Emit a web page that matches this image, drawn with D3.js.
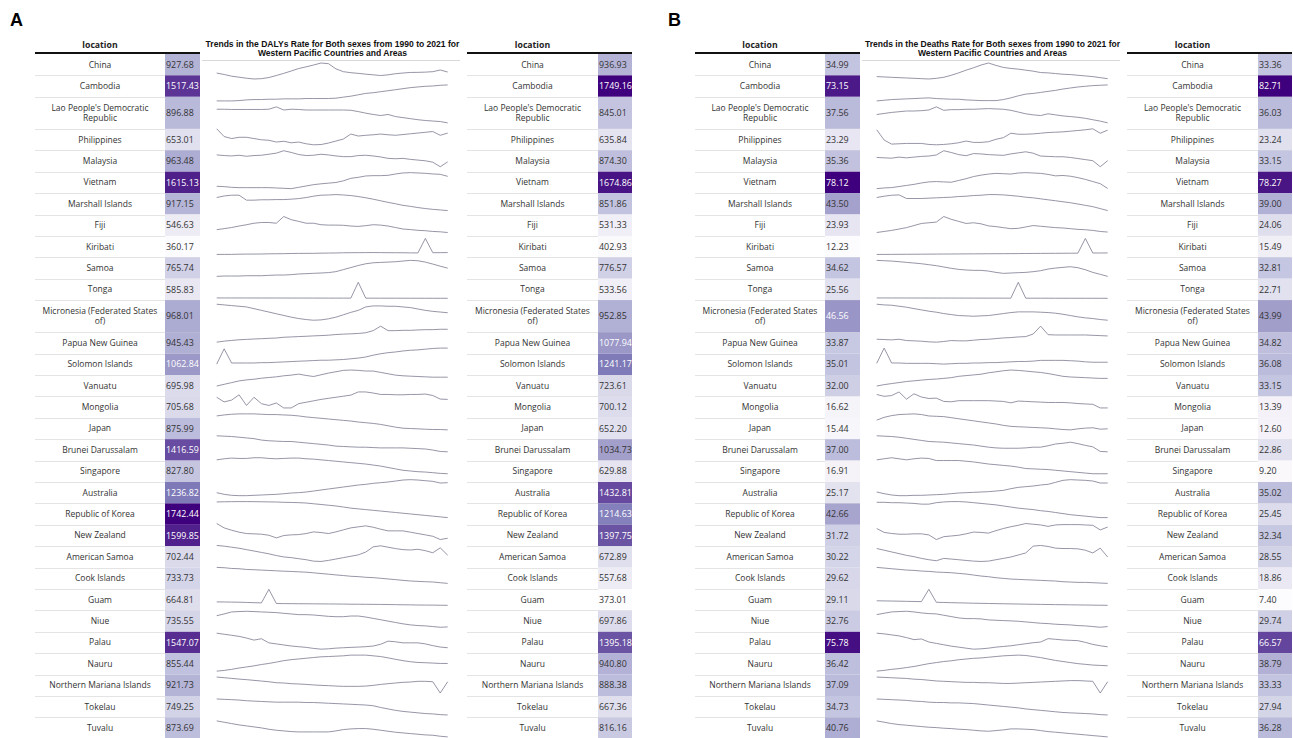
<!DOCTYPE html>
<html>
<head>
<meta charset="utf-8">
<script src="https://cdn.jsdelivr.net/npm/d3@7"></script>
<style>
  html, body { margin: 0; padding: 0; background: #fff; }
  svg { display: block; }
</style>
</head>
<body>
<svg id="chart" width="1293" height="738"></svg>
<script>
// ---- data -------------------------------------------------------------
const locations = ["China", "Cambodia", "Lao People's Democratic Republic", "Philippines", "Malaysia",
  "Vietnam", "Marshall Islands", "Fiji", "Kiribati", "Samoa", "Tonga", "Micronesia (Federated States of)",
  "Papua New Guinea", "Solomon Islands", "Vanuatu", "Mongolia", "Japan", "Brunei Darussalam", "Singapore",
  "Australia", "Republic of Korea", "New Zealand", "American Samoa", "Cook Islands", "Guam", "Niue",
  "Palau", "Nauru", "Northern Mariana Islands", "Tokelau", "Tuvalu"];

const years = [1990, 1991, 1992, 1993, 1994, 1995, 1996, 1997, 1998, 1999, 2000, 2001, 2002, 2003, 2004, 2005,
  2006, 2007, 2008, 2009, 2010, 2011, 2012, 2013, 2014, 2015, 2016, 2017, 2018, 2019, 2020, 2021];

const dalys1990 = [927.68, 1517.43, 896.88, 653.01, 963.48, 1615.13, 917.15, 546.63, 360.17, 765.74, 585.83,
  968.01, 945.43, 1062.84, 695.98, 705.68, 875.99, 1416.59, 827.80, 1236.82, 1742.44, 1599.85, 702.44,
  733.73, 664.81, 735.55, 1547.07, 855.44, 921.73, 749.25, 873.69];
const dalys2021 = [936.93, 1749.16, 845.01, 635.84, 874.30, 1674.86, 851.86, 531.33, 402.93, 776.57, 533.56,
  952.85, 1077.94, 1241.17, 723.61, 700.12, 652.20, 1034.73, 629.88, 1432.81, 1214.63, 1397.75, 672.89,
  557.68, 373.01, 697.86, 1395.18, 940.80, 888.38, 667.36, 816.16];
const deaths1990 = [34.99, 73.15, 37.56, 23.29, 35.36, 78.12, 43.50, 23.93, 12.23, 34.62, 25.56, 46.56, 33.87,
  35.01, 32.00, 16.62, 15.44, 37.00, 16.91, 25.17, 42.66, 31.72, 30.22, 29.62, 29.11, 32.76, 75.78, 36.42,
  37.09, 34.73, 40.76];
const deaths2021 = [33.36, 82.71, 36.03, 23.24, 33.15, 78.27, 39.00, 24.06, 15.49, 32.81, 22.71, 43.99, 34.82,
  36.08, 33.15, 13.39, 12.60, 22.86, 9.20, 35.02, 25.45, 32.34, 28.55, 18.86, 7.40, 29.74, 66.57, 38.79,
  33.33, 27.94, 36.28];

// yearly DALYs rate per 100,000, 1990-2021, one row per location (same order as above)
const dalysTrend = [
  [927.68,915,900,891,882,875,878,888,906,925,946,968,983,999,1017,1011,965,940,931,925,918,912,906,912,922,928,933,934,936,940,955,936.93],
  [1517.43,1517,1517,1522,1532,1537,1537,1542,1542,1547,1547,1547,1552,1552,1552,1552,1557,1572,1586,1606,1626,1636,1651,1665,1680,1695,1710,1720,1729,1734,1744,1749.16],
  [896.88,897,896,896,896,896,896,897,906,894,897,896,894,894,894,894,894,894,893,888,882,877,873,877,869,865,861,857,854,852,850,845.01],
  [653.01,622,614,619,619,614,609,607,600,603,597,600,593,589,590,596,604,612,632,624,627,629,632,629,627,630,633,636,639,642,627,635.84],
  [963.48,955,950,959,946,955,959,972,986,1017,995,968,955,959,972,963,950,941,941,955,959,950,937,919,914,919,906,897,888,870,812,874.30],
  [1615.13,1613,1609,1607,1607,1607,1607,1607,1605,1603,1601,1609,1617,1625,1630,1634,1638,1648,1663,1669,1677,1679,1679,1681,1689,1695,1697,1695,1693,1689,1687,1674.86],
  [917.15,925,929,929,904,904,906,906,907,907,909,912,917,924,929,930,932,930,927,922,916,909,901,893,886,878,873,867,862,858,855,851.86],
  [546.63,552,558,566,573,581,585,585,581,617,600,591,581,581,573,571,571,570,566,564,568,573,571,566,558,550,547,543,541,537,535,531.33],
  [360.17,361,362,366,368,369,370,374,376,378,382,384,385,386,390,392,394,398,400,401,402,404,402,400,400,399,396,394,728,400,401,402.93],
  [765.74,766.2,766.2,766.2,766.6,766.6,766.6,767.1,767.5,767.5,768.0,768.9,769.3,769.8,770.2,770.7,772.0,774.7,777.4,780.1,782.4,783.7,784.2,784.6,785.1,786.0,786.9,786.4,784.6,782.0,779.2,776.57],
  [585.83,585,584,583,582,580,579,577,576,574,572,571,569,567,566,564,562,560,558,2900,555,553,551,549,548,546,544,542,540,538,536,533.56],
  [968.01,966.8,965.6,964.4,963.2,960.1,957.1,954.1,951.0,948.0,945.0,942.5,940.7,939.5,940.1,942.0,945.0,949.2,953.5,957.1,963.2,965.0,965.0,964.4,964.4,963.2,962.0,959.5,957.1,955.3,954.1,952.85],
  [945.43,956,963,970,974,978,981,985,988,996,999,1003,1006,1010,1013,1017,1024,1028,1031,1035,1042,1064,1110,1064,1064,1067,1067,1071,1074,1074,1078,1077.94],
  [1062.84,1233,1075,1075,1075,1075,1079,1079,1083,1087,1091,1095,1098,1102,1106,1106,1110,1114,1122,1130,1142,1162,1178,1190,1198,1209,1217,1221,1229,1237,1241,1241.17],
  [695.98,701.3,706.6,711.9,715.1,717.2,720.4,722.6,724.7,727.9,730.0,733.2,729.0,725.7,731.1,736.4,740.6,744.9,746.0,744.9,742.8,742.8,738.5,734.3,730.0,727.9,726.8,725.7,724.7,723.6,723.6,723.61],
  [705.68,693.6,698.3,712.2,684.3,705.7,689.0,684.3,690.8,677.8,677.8,689.0,692.7,696.4,700.1,702.9,705.7,708.5,711.3,719.6,719.6,716.8,713.1,713.1,712.2,712.2,713.1,713.1,714.1,710.3,701.0,700.12],
  [875.99,892,903,909,909,909,903,898,898,892,887,876,860,849,838,827,816,805,794,778,767,756,740,718,696,679,674,669,663,658,658,652.20],
  [1416.59,1408,1400,1383,1366,1349,1315,1298,1289,1281,1281,1264,1247,1230,1213,1196,1170,1162,1153,1145,1145,1136,1128,1128,1128,1128,1119,1111,1102,1077,1043,1034.73],
  [827.80,843,853,848,848,858,858,848,843,848,853,853,843,838,828,818,808,798,788,778,768,754,739,719,699,679,669,659,654,645,635,629.88],
  [1236.82,1204,1185,1178,1178,1185,1191,1198,1204,1216,1230,1237,1250,1269,1289,1309,1328,1348,1367,1387,1400,1420,1433,1446,1465,1485,1492,1485,1472,1459,1426,1432.81],
  [1742.44,1748,1752,1754,1754,1752,1748,1744,1740,1730,1725,1718,1706,1681,1657,1632,1607,1571,1534,1509,1485,1460,1436,1411,1387,1362,1338,1313,1288,1264,1239,1214.63],
  [1599.85,1540,1508,1481,1462,1458,1453,1439,1402,1435,1444,1448,1462,1485,1476,1462,1485,1513,1540,1554,1568,1549,1522,1499,1499,1499,1481,1462,1444,1425,1380,1397.75],
  [702.44,700.3,697.2,694.0,689.8,685.6,681.3,677.1,671.8,667.6,665.5,662.3,659.2,654.9,653.9,657.1,661.3,665.5,669.7,673.9,682.4,698.2,701.4,697.2,692.9,689.8,688.7,690.8,686.6,680.3,695.1,672.89],
  [733.73,730,722,719,711,708,704,700,696,692,689,685,681,674,666,659,651,644,636,632,625,621,614,606,599,591,584,580,576,573,565,557.68],
  [664.81,660,650,640,620,600,580,1745,530,520,515,510,505,500,495,490,485,480,470,465,460,455,450,440,430,420,410,400,395,390,380,373.01],
  [735.55,741.3,748.1,749.3,750.4,749.3,748.1,747.0,745.8,743.5,741.3,739.0,739.0,737.8,735.6,733.3,732.1,732.1,734.4,734.4,731.0,726.4,721.9,717.3,712.7,708.1,704.7,702.4,701.3,699.0,696.7,697.86],
  [1547.07,1536,1525,1514,1496,1475,1489,1446,1435,1424,1413,1406,1399,1388,1380,1384,1391,1395,1399,1402,1406,1413,1431,1464,1457,1446,1446,1446,1435,1417,1402,1395.18],
  [855.44,863,875,890,902,914,929,941,956,972,983,991,999,1007,1015,1018,1022,1026,1034,1034,1034,1026,1018,1003,987,972,960,952,949,945,941,940.80],
  [921.73,917,912,907,903,898,893,888,881,879,874,872,869,865,862,860,857,855,855,855,857,862,869,874,879,884,886,891,891,888,807,888.38],
  [749.25,747.4,745.6,743.8,740.2,738.3,736.5,734.7,732.9,732.9,732.9,732.9,731.1,731.1,729.2,727.4,725.6,723.8,722.0,720.1,718.3,714.7,705.6,698.3,691.0,685.6,681.9,678.3,674.6,672.8,669.2,667.36],
  [873.69,868.9,864.1,859.3,855.7,852.1,848.5,843.7,840.1,837.7,835.3,834.1,834.1,834.1,834.1,834.1,837.7,842.5,844.9,846.1,846.1,843.7,840.1,836.5,832.9,830.5,828.1,825.7,823.3,822.1,818.5,816.16]
];

// yearly deaths rate per 100,000, 1990-2021
const deathsTrend = [
  [34.99,34.72,34.45,34.17,33.90,33.63,33.36,33.09,33.63,34.45,36.08,37.98,40.16,42.06,44.24,45.87,43.97,42.33,41.52,40.97,40.16,39.34,38.25,37.98,37.44,36.89,36.62,36.08,35.53,34.99,34.17,33.36],
  [73.15,73.56,73.96,74.17,74.37,74.57,74.78,74.98,74.57,74.37,74.17,74.17,73.76,73.56,73.35,73.35,73.35,73.96,74.98,76.20,77.22,77.62,78.24,78.85,79.46,80.27,80.88,81.49,81.90,82.30,82.51,82.71],
  [37.56,37.75,37.94,38.07,38.20,38.20,38.26,38.39,38.96,38.33,38.45,38.45,38.52,38.52,38.58,38.64,38.58,38.52,38.33,38.01,37.69,37.50,37.37,37.69,37.50,37.30,37.18,37.05,36.86,36.60,36.35,36.03],
  [23.29,21.79,21.19,21.24,21.29,21.29,21.29,21.14,21.09,21.14,21.24,21.39,21.64,21.44,21.44,21.54,21.89,22.14,22.79,22.64,22.64,22.69,22.79,22.89,22.94,22.99,23.09,23.19,23.29,23.44,22.79,23.24],
  [35.36,35.11,34.87,35.61,35.11,35.61,36.10,36.34,37.08,40.03,38.80,37.32,36.59,38.06,37.82,37.32,37.08,36.83,37.82,38.55,39.29,38.31,36.34,36.10,35.85,35.85,35.36,34.62,33.89,33.15,28.97,33.15],
  [78.12,78.62,78.87,79.62,80.37,81.12,82.12,82.87,83.12,82.87,82.62,83.87,85.12,86.62,87.62,88.37,88.87,88.62,88.37,89.12,89.37,89.12,88.87,88.12,87.12,87.37,86.87,85.87,84.62,83.12,81.62,78.27],
  [43.50,43.95,44.29,44.40,43.16,43.16,43.16,43.28,43.39,43.50,43.61,43.84,43.95,44.18,44.29,44.51,44.51,44.40,44.18,43.95,43.61,43.39,43.05,42.71,42.38,42.04,41.70,41.25,40.80,40.35,39.68,39.00],
  [23.93,24.23,24.53,24.93,25.33,25.93,26.53,26.73,26.93,28.53,27.73,27.13,26.53,26.73,26.43,25.83,25.63,25.33,25.03,25.13,25.53,25.93,25.73,25.53,25.33,25.23,25.03,24.83,24.73,24.53,24.23,24.06],
  [12.23,12.3,12.4,12.5,12.6,12.7,12.8,12.9,13.0,13.1,13.2,13.3,13.4,13.5,13.6,13.7,13.8,13.9,14.0,14.1,14.3,14.4,14.5,14.6,14.7,14.8,14.9,15.0,47.0,15.3,15.4,15.49],
  [34.62,34.58,34.54,34.47,34.39,34.32,34.24,34.13,34.02,33.87,33.72,33.60,33.53,33.49,33.49,33.41,33.26,33.15,33.19,33.23,33.26,33.34,33.45,33.64,33.75,33.83,33.90,33.79,33.56,33.26,33.04,32.81],
  [25.56,25.5,25.4,25.3,25.2,25.1,25.0,24.9,24.8,24.7,24.6,24.5,24.4,24.3,24.2,24.1,24.0,23.9,23.8,150,23.7,23.6,23.5,23.4,23.3,23.2,23.1,23.0,22.9,22.85,22.8,22.71],
  [46.56,46.45,46.40,46.24,46.08,45.86,45.65,45.44,45.28,45.06,44.90,44.74,44.69,44.63,44.69,44.74,44.90,45.06,45.22,45.33,45.33,45.33,45.28,45.22,45.12,44.95,44.74,44.53,44.37,44.26,44.10,43.99],
  [33.87,33.78,33.68,33.87,33.49,33.40,33.30,33.11,33.02,33.21,33.49,33.40,33.40,33.59,33.78,33.87,34.06,34.25,34.35,34.54,34.63,35.39,37.67,35.20,35.11,35.11,35.11,35.11,35.11,35.01,34.92,34.82],
  [35.01,49.65,35.37,35.37,35.01,35.01,35.01,35.01,34.65,34.30,34.65,35.01,35.01,35.37,35.37,35.72,35.72,36.08,36.44,36.80,36.80,37.15,37.87,37.87,37.87,37.87,37.51,37.15,36.44,36.08,36.08,36.08],
  [32.00,32.21,32.37,32.52,32.68,32.78,32.89,32.99,33.05,33.15,33.26,33.46,33.57,33.67,33.78,33.99,34.14,34.30,34.41,34.35,34.25,34.14,34.04,33.88,33.67,33.46,33.36,33.31,33.26,33.20,33.15,33.15],
  [16.62,16.18,16.36,17.23,15.49,16.79,16.01,15.66,15.75,14.96,14.87,15.14,15.14,15.14,15.14,15.14,15.05,14.96,14.61,15.05,14.96,14.87,14.79,14.70,14.70,14.70,14.61,14.44,14.35,14.26,13.39,13.39],
  [15.44,16.35,16.92,17.26,17.37,17.48,17.26,16.80,16.69,16.58,16.24,15.89,15.55,15.21,14.87,14.53,14.19,13.74,13.40,13.28,13.17,13.05,12.94,12.83,12.60,12.37,12.26,12.60,12.83,12.94,12.49,12.60],
  [37.00,36.69,36.37,35.74,34.80,33.86,32.92,31.98,31.66,31.35,30.72,30.09,29.46,28.84,27.89,26.95,26.32,26.01,26.01,26.01,26.32,26.95,26.95,28.21,29.78,30.41,31.35,30.09,28.52,27.27,23.18,22.86],
  [16.91,17.49,18.07,17.49,16.91,17.49,17.88,17.68,16.52,16.52,16.52,16.52,16.14,15.75,15.17,14.59,14.21,13.82,13.44,12.86,12.08,11.89,11.70,11.51,11.12,10.74,10.35,9.96,9.58,9.20,9.20,9.20],
  [25.17,23.35,21.89,21.16,21.16,21.52,21.52,21.89,22.25,22.62,23.35,24.07,24.44,24.81,25.17,25.54,26.27,26.99,28.82,30.28,31.01,31.74,32.84,33.57,35.76,37.95,38.68,38.31,37.95,37.22,35.02,35.02],
  [42.66,42.66,42.25,42.25,41.84,41.43,40.61,40.61,42.25,43.07,43.48,43.48,43.07,42.25,41.43,40.61,39.79,38.56,37.33,36.10,35.28,34.46,33.23,32.41,31.18,29.95,28.72,27.90,27.08,26.26,25.45,25.45],
  [31.72,30.07,29.62,29.32,29.32,29.47,29.47,29.02,27.07,28.27,28.57,28.87,29.47,30.22,30.07,29.77,30.82,31.72,32.47,33.07,33.82,33.52,33.22,32.62,33.22,33.37,33.37,33.37,33.22,33.07,31.12,32.34],
  [30.22,29.89,29.55,29.22,28.88,28.62,28.28,28.02,27.82,28.28,28.15,28.02,27.88,27.75,27.68,27.75,28.02,28.28,28.55,28.95,29.35,30.69,30.82,30.62,30.29,30.22,30.22,30.15,29.89,29.35,30.29,28.55],
  [29.62,29.17,28.72,28.28,27.83,27.60,27.16,26.93,26.48,26.26,26.04,25.59,25.14,24.47,23.80,23.35,22.68,22.23,21.78,21.56,21.33,21.11,20.89,20.66,20.44,19.99,19.76,19.54,19.54,19.32,19.09,18.86],
  [29.11,28.5,27.9,27.2,26.5,25.8,25.0,84.0,22.0,21.0,20.0,19.2,18.4,17.6,16.9,16.2,15.5,14.8,14.2,13.6,13.0,12.4,11.8,11.3,10.8,10.3,9.8,9.3,8.8,8.3,7.8,7.40],
  [32.76,33.10,33.43,33.52,33.60,33.43,33.18,33.01,32.93,32.59,32.26,31.92,31.75,31.75,31.67,31.42,31.33,31.25,31.17,31.08,30.91,30.75,30.58,30.49,30.33,30.24,30.16,29.99,29.91,29.74,29.57,29.74],
  [75.78,75.32,74.63,73.94,72.79,71.41,71.87,69.80,68.88,67.96,67.04,66.35,65.66,64.97,65.20,65.66,66.35,66.81,67.27,67.96,68.65,69.34,69.80,72.10,71.64,71.18,70.95,70.72,69.57,68.19,67.27,66.57],
  [36.42,36.74,37.21,37.53,38.00,38.47,39.11,39.74,40.21,40.69,41.00,41.48,41.79,42.11,42.27,42.58,42.90,43.21,43.37,43.53,43.37,42.90,42.42,41.79,41.16,40.69,40.21,39.74,39.42,39.11,38.95,38.79],
  [37.09,36.80,36.51,36.22,35.93,35.36,35.07,34.49,33.91,33.62,33.33,33.04,32.75,32.75,32.47,32.47,32.18,31.89,31.89,32.18,32.47,32.75,33.04,33.33,33.62,33.91,34.20,34.20,33.91,33.62,24.09,33.33],
  [34.73,34.58,34.43,34.28,34.13,33.82,33.67,33.37,33.22,33.22,33.07,33.07,32.92,32.77,32.47,32.16,31.86,31.56,31.26,30.96,30.50,30.20,29.90,29.60,29.29,28.99,28.84,28.69,28.54,28.39,28.09,27.94],
  [40.76,40.39,40.01,39.73,39.55,39.36,39.17,38.99,38.89,38.71,38.61,38.43,38.33,38.15,37.96,37.87,38.05,38.24,38.52,38.52,38.43,38.33,38.05,37.77,37.59,37.40,37.21,37.03,36.84,36.65,36.47,36.28]
];

const panels = [
  { letter: "A", measure: "DALYs",  first: dalys1990,  last: dalys2021,  trend: dalysTrend,  dx: 0 },
  { letter: "B", measure: "Deaths", first: deaths1990, last: deaths2021, trend: deathsTrend, dx: 660 }
];

// ---- styling / layout --------------------------------------------------
const TABLE_FONT = "'Open Sans', 'Noto Sans', sans-serif";
const TITLE_FONT = "'Liberation Sans', Arial, sans-serif";
const LABEL_FS = 8.5;   // location names
const VALUE_FS = 8.9;   // rate values
const purples = ["#fcfbfd", "#efedf5", "#dadaeb", "#bcbddc", "#9e9ac8", "#807dba", "#6a51a3", "#54278f", "#3f007d"];

const ROW_H = 21.4, ROW_H2 = 32.1, BODY_TOP = 54, HEADER_RULE = 53;
const SPARK_TOP = 61, SPARK_STEP = 21.93;

const svg = d3.select("#chart");

// measure label widths so long names wrap onto two lines
const probe = svg.append("text").attr("font-family", TABLE_FONT).attr("font-size", LABEL_FS)
  .attr("visibility", "hidden");
function textWidth(s) { probe.text(s); return probe.node().getComputedTextLength(); }
function wrap(name, maxW) {
  const lines = [];
  let cur = "";
  name.split(" ").forEach(w => {
    const t = cur ? cur + " " + w : w;
    if (cur && textWidth(t) > maxW) { lines.push(cur); cur = w; } else cur = t;
  });
  lines.push(cur);
  return lines;
}

let yCursor = BODY_TOP;
const rows = locations.map(name => {
  const lines = wrap(name, 121);
  const h = lines.length > 1 ? ROW_H2 : ROW_H;
  const r = { name, lines, y0: yCursor, y1: yCursor + h };
  yCursor += h;
  return r;
});
probe.remove();

function drawTable(g, x0, xv, x1, values) {
  const [lo, hi] = d3.extent(values);
  const color = d3.scaleLinear()
    .domain(purples.map((_, i) => lo + (hi - lo) * i / (purples.length - 1)))
    .range(purples)
    .interpolate(d3.interpolateLab);
  const norm = d3.scaleLinear().domain([lo, hi]);

  g.append("text")
    .attr("x", (x0 + xv) / 2).attr("y", 47.5)
    .attr("text-anchor", "middle")
    .attr("font-family", TABLE_FONT).attr("font-size", LABEL_FS + 0.2).attr("font-weight", 700)
    .attr("fill", "#222")
    .text("location");

  const row = g.selectAll("g.row").data(rows).join("g").attr("class", "row");

  row.append("line")
    .attr("x1", x0).attr("x2", x1)
    .attr("y1", d => Math.round(d.y1) + 0.5).attr("y2", d => Math.round(d.y1) + 0.5)
    .attr("stroke", "#e4e4e4").attr("stroke-width", 1);

  row.append("rect")
    .attr("x", xv).attr("width", x1 - xv)
    .attr("y", d => d.y0).attr("height", d => d.y1 - d.y0)
    .attr("fill", (d, i) => color(values[i]));

  row.each(function (d) {
    const cell = d3.select(this);
    const mid = (d.y0 + d.y1) / 2;
    const lh = 10.5;
    d.lines.forEach((ln, k) => {
      cell.append("text")
        .attr("x", (x0 + xv) / 2)
        .attr("y", mid + (k - (d.lines.length - 1) / 2) * lh)
        .attr("dy", "0.35em")
        .attr("text-anchor", "middle")
        .attr("font-family", TABLE_FONT).attr("font-size", LABEL_FS)
        .attr("fill", "#333")
        .text(ln);
    });
  });

  row.append("text")
    .attr("x", xv + 1)
    .attr("y", d => (d.y0 + d.y1) / 2)
    .attr("dy", "0.35em")
    .attr("font-family", TABLE_FONT).attr("font-size", VALUE_FS)
    .attr("fill", (d, i) => norm(values[i]) >= 0.5 ? "#ffffff" : "#333333")
    .text((d, i) => d3.format(".2f")(values[i]));

  g.append("line")
    .attr("x1", x0).attr("x2", x1)
    .attr("y1", HEADER_RULE).attr("y2", HEADER_RULE)
    .attr("stroke", "#111").attr("stroke-width", 2);
}

function drawTrends(g, p) {
  const cx = 332.5 + p.dx;
  const title = g.append("text")
    .attr("text-anchor", "middle")
    .attr("font-family", TITLE_FONT).attr("font-size", 8.55).attr("font-weight", 700)
    .attr("fill", "#111");
  title.append("tspan").attr("x", cx).attr("y", 46.7)
    .text(`Trends in the ${p.measure} Rate for Both sexes from 1990 to 2021 for`);
  title.append("tspan").attr("x", cx).attr("y", 56.3)
    .text("Western Pacific Countries and Areas");

  g.append("line")
    .attr("x1", 202 + p.dx).attr("x2", 460 + p.dx)
    .attr("y1", 60.5).attr("y2", 60.5)
    .attr("stroke", "#d9d9d9").attr("stroke-width", 1);

  const x = d3.scaleLinear().domain(d3.extent(years)).range([216.7 + p.dx, 447.7 + p.dx]);

  p.trend.forEach((series, i) => {
    const top = SPARK_TOP + SPARK_STEP * i;
    const y = d3.scaleLinear().domain(d3.extent(series)).range([top + 18, top + 2]);
    const line = d3.line().x((d, k) => x(years[k])).y(d => y(d));
    g.append("path")
      .datum(series)
      .attr("d", line)
      .attr("fill", "none")
      .attr("stroke", "#7b7b90")
      .attr("stroke-width", 0.8)
      .attr("stroke-linejoin", "miter");
  });
}

panels.forEach(p => {
  const g = svg.append("g").attr("class", "panel");
  g.append("text")
    .attr("x", 10 + p.dx - (p.dx ? 2 : 0)).attr("y", 25.5)
    .attr("font-family", TITLE_FONT).attr("font-size", 18).attr("font-weight", 700)
    .attr("fill", "#000")
    .text(p.letter);
  drawTable(g.append("g"), 35 + p.dx, 165 + p.dx, 200 + p.dx, p.first);
  drawTrends(g.append("g"), p);
  drawTable(g.append("g"), 467 + p.dx, 598 + p.dx, 632 + p.dx, p.last);
});
</script>
</body>
</html>
